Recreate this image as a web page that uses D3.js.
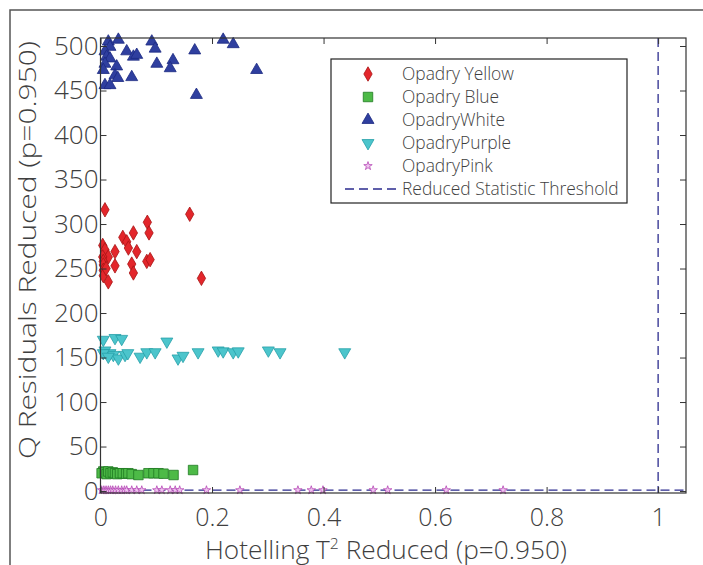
<!DOCTYPE html>
<html>
<head>
<meta charset="utf-8">
<script src="https://cdn.jsdelivr.net/npm/d3@7"></script>
<style>
  body { margin: 0; background: #fff; }
  text { font-family: "Open Sans", "Liberation Sans", sans-serif; font-weight: 300; fill: #3f3f3f; }
</style>
</head>
<body>
<svg id="chart" width="703" height="565"></svg>
<script>
// values, [Hotelling T2 reduced, Q residuals reduced]
const yellow = [[0.008,316],[0.084,302],[0.160,311],[0.087,290],[0.059,290],[0.040,285],[0.047,280],
  [0.050,273],[0.065,269],[0.026,269],[0.004,276],[0.008,271],[0.014,263],[0.004,263],[0.005,258],
  [0.026,253],[0.056,255],[0.083,258],[0.089,260],[0.059,245],[0.005,254],[0.005,248],[0.005,242],
  [0.014,235],[0.181,239],[0.010,250]];
const blue = [[0.005,22],[0.002,20],[0.008,21],[0.011,19],[0.014,22],[0.018,20],[0.022,21],
  [0.026,20],[0.030,19],[0.035,20],[0.040,20],[0.046,19.5],[0.050,20],[0.056,19],[0.068,18],
  [0.086,20],[0.095,20],[0.104,20],[0.113,19.5],[0.131,18],[0.166,23.6]];
const white = [[0.032,507],[0.014,505],[0.017,499],[0.008,494],[0.011,488],[0.017,486],[0.008,480],
  [0.029,477],[0.005,473],[0.026,467],[0.031,464],[0.008,456],[0.017,456],[0.047,494],[0.059,488],
  [0.065,490],[0.056,465],[0.092,505],[0.098,497],[0.101,480],[0.130,484],[0.125,475],[0.169,495],
  [0.172,445],[0.220,507],[0.238,502],[0.280,473]];
const purple = [[0.005,170],[0.026,172],[0.038,171],[0.119,168],[0.008,158],[0.017,155],[0.023,153],
  [0.032,149],[0.044,153],[0.049,155],[0.071,151],[0.083,156],[0.098,156],[0.139,149],[0.148,152],
  [0.175,156],[0.211,158],[0.220,157],[0.238,156],[0.247,157],[0.301,158],[0.322,156],[0.438,156],
  [0.005,155],[0.014,151]];
const pink = [[0.002,1],[0.006,1],[0.010,1],[0.014,1],[0.018,1],[0.022,1],[0.027,1],[0.032,1],
  [0.038,1],[0.043,1],[0.047,1],[0.056,1],[0.065,1],[0.074,1],[0.101,1],[0.110,1],[0.125,1],
  [0.134,1],[0.142,1],[0.190,1],[0.250,1],[0.354,1],[0.378,1],[0.399,1],[0.489,1],[0.515,1],
  [0.620,1],[0.722,1]];
const threshold = 1;

const xTicks = [0, 0.2, 0.4, 0.6, 0.8, 1];
const yTicks = [0, 50, 100, 150, 200, 250, 300, 350, 400, 450, 500];

const seriesNames = ["Opadry Yellow", "Opadry Blue", "OpadryWhite", "OpadryPurple", "OpadryPink"];

const svg = d3.select("#chart");

const x = d3.scaleLinear().domain([0, 1.05]).range([100.5, 686]);
const y = d3.scaleLinear().domain([-2.2, 509]).range([493, 38]);

// outer frame of the figure (cut at right and bottom)
svg.append("path")
  .attr("d", "M10,565 L10,10 L703,10")
  .attr("fill", "none")
  .attr("stroke", "#555")
  .attr("stroke-width", 1.5);

// series styles
const styles = [
  {data: yellow, type: d3.symbolDiamond, size: 60, fill: "#e3262b", stroke: "#a81414", rot: 0},
  {data: blue, type: d3.symbolSquare, size: 90, fill: "#4dba47", stroke: "#1f7a22", rot: 0},
  {data: white, type: d3.symbolTriangle, size: 62, fill: "#2f3f9f", stroke: "#1c2a82", rot: 0},
  {data: purple, type: d3.symbolTriangle, size: 62, fill: "#4cc5cc", stroke: "#26a0a8", rot: 180},
  {data: pink, type: d3.symbolStar, size: 22, fill: "#efc4ef", stroke: "#b548b5", rot: 0}
];

const plot = svg.append("g");

// threshold lines
const dashed = plot.append("g")
  .attr("stroke", "#2b2b8e")
  .attr("stroke-width", 1.3)
  .attr("stroke-dasharray", "9,5");
dashed.append("line")
  .attr("x1", x(threshold)).attr("x2", x(threshold))
  .attr("y1", y.range()[1]).attr("y2", y.range()[0]);
dashed.append("line")
  .attr("x1", x.range()[0]).attr("x2", x.range()[1])
  .attr("y1", y(threshold)).attr("y2", y(threshold));

styles.forEach(function(s) {
  plot.append("g").selectAll("path")
    .data(s.data)
    .join("path")
      .attr("d", d3.symbol().type(s.type).size(s.size))
      .attr("transform", d => `translate(${x(d[0])},${y(d[1])}) rotate(${s.rot})`)
      .attr("fill", s.fill)
      .attr("stroke", s.stroke)
      .attr("stroke-width", 0.8);
});

// axes box with inward ticks on all four sides
const tickLen = 6;
const axes = svg.append("g");
axes.append("rect")
  .attr("x", x.range()[0]).attr("y", y.range()[1])
  .attr("width", x.range()[1] - x.range()[0])
  .attr("height", y.range()[0] - y.range()[1])
  .attr("fill", "none").attr("stroke", "#333").attr("stroke-width", 1.2);

axes.append("g").attr("transform", `translate(0,${y.range()[0]})`)
  .call(d3.axisBottom(x).tickValues(xTicks).tickSize(-tickLen).tickFormat(d3.format("~g")))
  .call(g => g.select(".domain").remove())
  .call(g => g.selectAll("line").attr("stroke", "#333"))
  .call(g => g.selectAll("text").attr("font-size", 25).attr("y", 15).attr("fill", "#3f3f3f"));
axes.append("g").attr("transform", `translate(0,${y.range()[1]})`)
  .call(d3.axisTop(x).tickValues(xTicks).tickSize(-tickLen).tickFormat(""))
  .call(g => g.select(".domain").remove())
  .call(g => g.selectAll("line").attr("stroke", "#333"));
axes.append("g").attr("transform", `translate(${x.range()[0]},0)`)
  .call(d3.axisLeft(y).tickValues(yTicks).tickSize(-tickLen))
  .call(g => g.select(".domain").remove())
  .call(g => g.selectAll("line").attr("stroke", "#333"))
  .call(g => g.selectAll("text").attr("font-size", 26).attr("x", -2).attr("fill", "#3f3f3f"));
axes.append("g").attr("transform", `translate(${x.range()[1]},0)`)
  .call(d3.axisRight(y).tickValues(yTicks).tickSize(-tickLen).tickFormat(""))
  .call(g => g.select(".domain").remove())
  .call(g => g.selectAll("line").attr("stroke", "#333"));
axes.selectAll("text").attr("font-family", null);

// axis titles
const xl = svg.append("text")
  .attr("x", 386).attr("y", 559)
  .attr("text-anchor", "middle")
  .attr("font-size", 25)
  .attr("textLength", 362)
  .attr("lengthAdjust", "spacingAndGlyphs");
xl.append("tspan").text("Hotelling T");
xl.append("tspan").attr("font-size", 15).attr("dy", -10).text("2");
xl.append("tspan").attr("dy", 10).text(" Reduced (p=0.950)");

svg.append("text")
  .attr("transform", "translate(36,250) rotate(-90)")
  .attr("text-anchor", "middle")
  .attr("font-size", 24)
  .attr("textLength", 418)
  .attr("lengthAdjust", "spacingAndGlyphs")
  .text("Q Residuals Reduced (p=0.950)");

// legend
const legend = svg.append("g");
legend.append("rect")
  .attr("x", 331).attr("y", 59).attr("width", 296).attr("height", 144)
  .attr("fill", "#fff").attr("stroke", "#222").attr("stroke-width", 1.2);
const rowY = d3.scaleLinear().domain([0, 5]).range([74, 189]);
styles.forEach(function(s, i) {
  legend.append("path")
    .attr("d", d3.symbol().type(s.type).size(s.size))
    .attr("transform", `translate(368,${rowY(i)}) rotate(${s.rot})`)
    .attr("fill", s.fill).attr("stroke", s.stroke).attr("stroke-width", 0.8);
  legend.append("text")
    .attr("x", 402).attr("y", rowY(i)).attr("dy", "0.36em")
    .attr("font-size", 17.4)
    .text(seriesNames[i]);
});
legend.append("line")
  .attr("x1", 345).attr("x2", 396).attr("y1", rowY(5)).attr("y2", rowY(5))
  .attr("stroke", "#2b2b8e").attr("stroke-width", 1.3).attr("stroke-dasharray", "9,5");
legend.append("text")
  .attr("x", 402).attr("y", rowY(5)).attr("dy", "0.36em")
  .attr("font-size", 17.4)
  .text("Reduced Statistic Threshold");
</script>
</body>
</html>
